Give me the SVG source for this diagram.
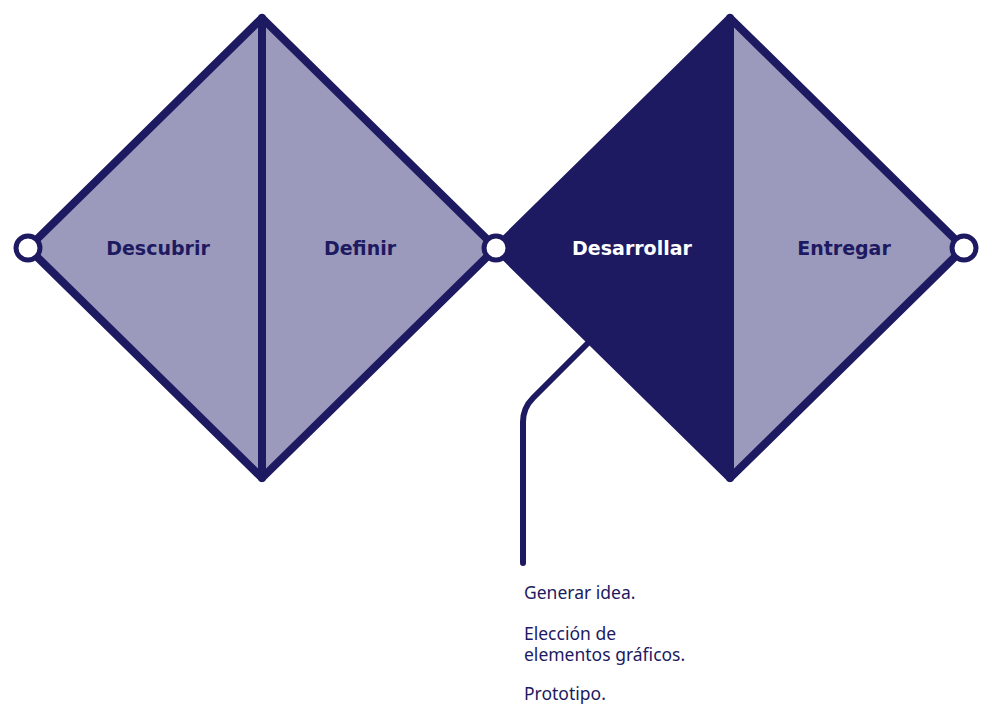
<svg xmlns="http://www.w3.org/2000/svg" width="981" height="704" viewBox="0 0 981 704">
<style>
.edge{fill:none;stroke:#1d1a61;stroke-width:8;stroke-linejoin:round;stroke-linecap:round}
.light{fill:#9b99bc}
.dark{fill:#1d1a61}
.lbl{font-family:"DejaVu Sans",sans-serif;font-weight:700;font-size:19px;text-anchor:middle}
.note{font-family:"Noto Sans",sans-serif;font-size:17.5px;fill:#1d1a61}
.dot{fill:#fff;stroke:#1d1a61;stroke-width:5}
</style>
<rect width="981" height="704" fill="#fff"/>
<g id="diamond-1">
<polygon class="light" points="28,248 262,18 496,248 262,478"/>
<polygon class="edge" points="28,248 262,18 496,248 262,478"/>
<line class="edge" x1="262" y1="18" x2="262" y2="478"/>
</g>
<g id="diamond-2">
<polygon class="light" points="730,18 964,248 730,478"/>
<polygon class="dark" points="496,248 730,18 730,478"/>
<polygon class="edge" points="496,248 730,18 964,248 730,478"/>
<line class="edge" x1="730" y1="18" x2="730" y2="478"/>
</g>
<g id="connectors">
<path d="M590 341 L533 398 Q523 408 523 422 L523 563" fill="none" stroke="#1d1a61" stroke-width="6" stroke-linecap="round"/>
</g>
<g id="node-descubrir"><text class="lbl" x="158" y="255" fill="#1d1a61">Descubrir</text></g>
<g id="node-definir"><text class="lbl" x="360" y="255" fill="#1d1a61">Definir</text></g>
<g id="node-desarrollar"><text class="lbl" x="632" y="255" fill="#fff">Desarrollar</text></g>
<g id="node-entregar"><text class="lbl" x="844" y="255" fill="#1d1a61">Entregar</text></g>
<g id="dots">
<circle class="dot" cx="28" cy="248" r="12"/>
<circle class="dot" cx="496" cy="248" r="12"/>
<circle class="dot" cx="964" cy="248" r="12"/>
</g>
<g id="note">
<text class="note" x="524" y="599">Generar idea.</text>
<text class="note" x="524" y="640">Elección de</text>
<text class="note" x="524" y="661">elementos gráficos.</text>
<text class="note" x="524" y="700">Prototipo.</text>
</g>
</svg>
